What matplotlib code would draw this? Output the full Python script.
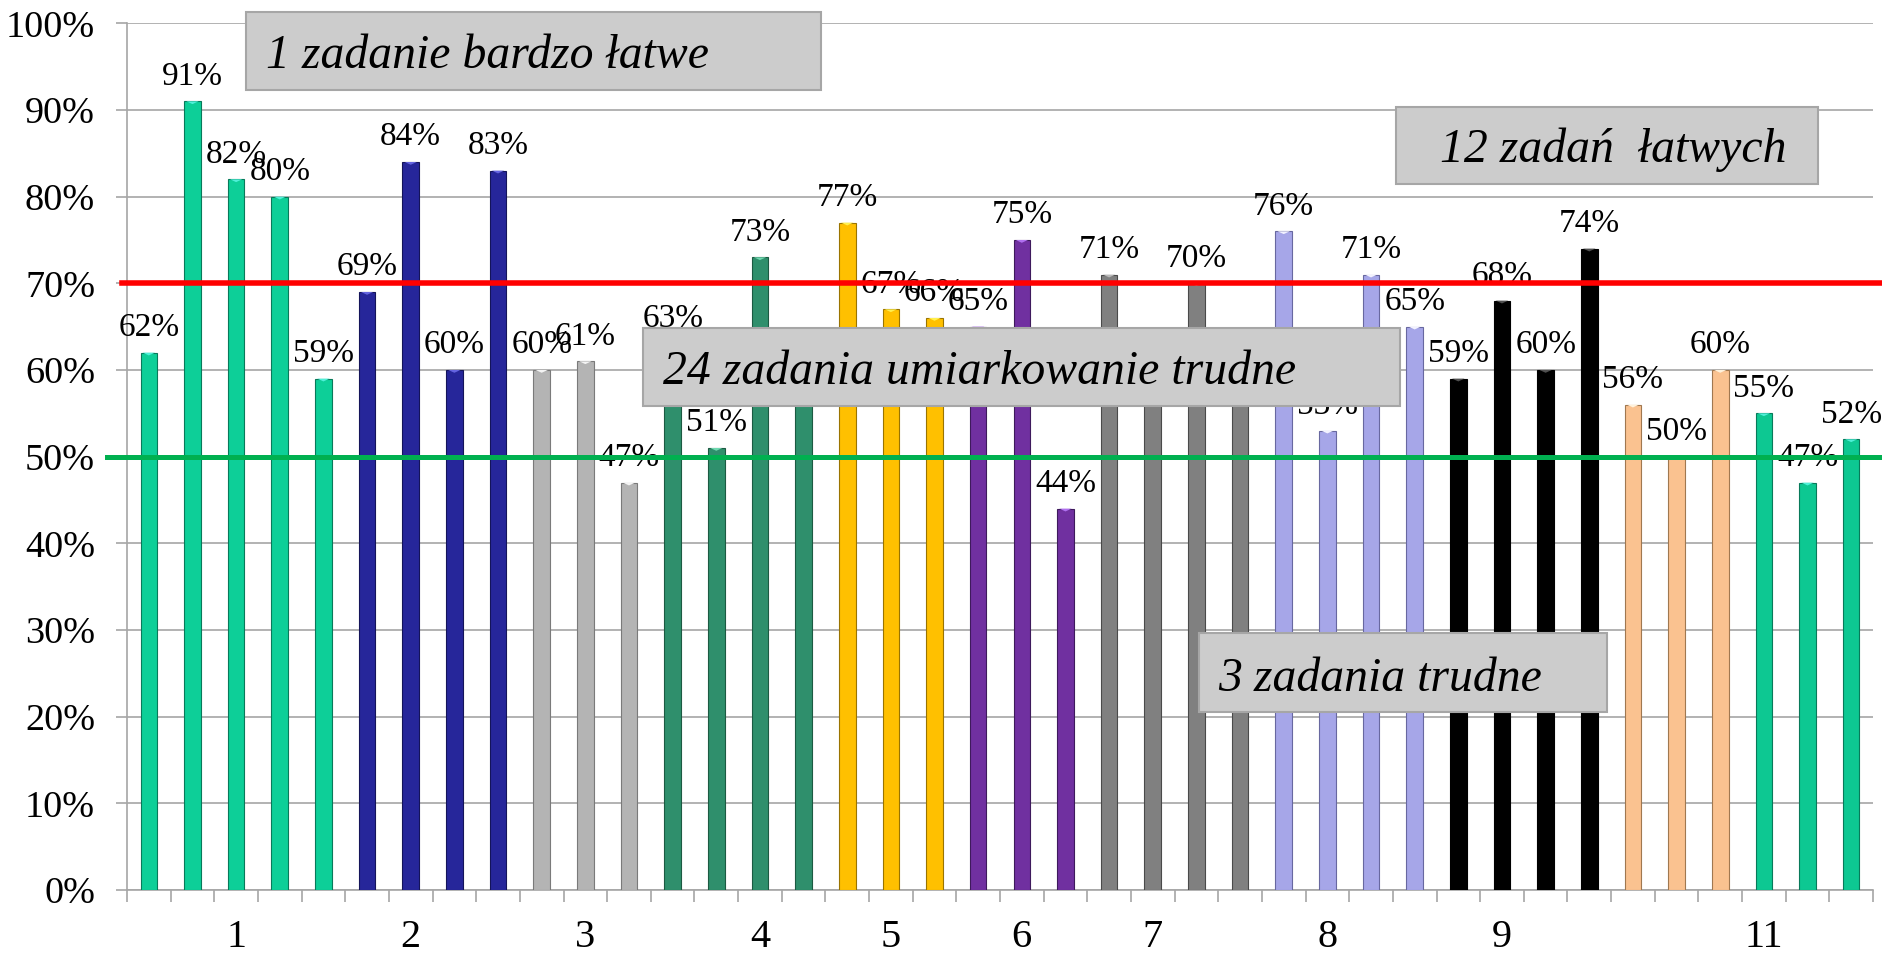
import numpy as np
import matplotlib.pyplot as plt
from matplotlib.patches import Rectangle
from matplotlib.ticker import PercentFormatter, FixedLocator

plt.rcParams['font.family'] = ['Liberation Serif', 'DejaVu Serif']

# latwosc zadan w procentach (40 zadan, 11 grup kolorow)
values = [62, 91, 82, 80, 59,
          69, 84, 60, 83,
          60, 61, 47,
          63, 51, 73, 58,
          77, 67, 66,
          65, 75, 44,
          71, 59, 70, 57,
          76, 53, 71, 65,
          59, 68, 60, 74,
          56, 50, 60,
          55, 47, 52]
group_sizes = [5, 4, 3, 4, 3, 3, 4, 4, 4, 3, 3]
group_colors = ['#0DCF98', '#26269A', '#B4B4B4', '#2F8F6C', '#FFC000', '#7030A0',
                '#808080', '#A6A6E8', '#000000', '#FAC290', '#0DC892']
group_edges = ['#087A5A', '#14145A', '#7A7A7A', '#1C5A42', '#9A7400', '#3E1A5C',
               '#4A4A4A', '#6868A0', '#000000', '#A07850', '#087A5A']
group_tips = ['#4FF0D8', '#6464E0', '#F4F4F4', '#70D8B0', '#FFF050', '#B070F0',
              '#B8B8B8', '#F2F2FF', '#505050', '#FFF2DC', '#4FF0D8']
# etykiety osi X (numer grupy pod wybranym slupkiem)
x_labels = ['', '', '1', '', '',
            '', '2', '', '',
            '', '3', '',
            '', '', '4', '',
            '', '5', '',
            '', '6', '',
            '', '7', '', '',
            '', '8', '', '',
            '', '9', '', '',
            '', '', '',
            '11', '', '']
easy_level = 70
hard_level = 50
boxes = ['1 zadanie bardzo łatwe', '12 zadań  łatwych',
         '24 zadania umiarkowanie trudne', '3 zadania trudne']

W, H = 1882, 957
fig = plt.figure(figsize=(W / 100, H / 100), dpi=100)
ax = fig.add_axes([127 / W, 1 - 890 / H, (1873 - 127) / W, (890 - 23.3) / H])

x = np.arange(len(values))
colors = np.repeat(group_colors, group_sizes)
edges = np.repeat(group_edges, group_sizes)
tips = np.repeat(group_tips, group_sizes)

ax.bar(x, values, width=0.38, color=colors, edgecolor=edges, linewidth=0.8, zorder=3)
# jasny trojkat na szczycie slupka
tip = [(-1, 0), (1, 0), (0, -0.45), (-1, 0)]
ax.scatter(x, values, marker=tip, s=80, c=tips, linewidths=0, zorder=4)

for xi, v in zip(x, values):
    ax.annotate(f'{v}%', (xi, v), xytext=(0, 7), textcoords='offset points',
                ha='center', va='bottom', fontsize=24, zorder=5)

# progi
ax.plot([-0.003, 1.01], [easy_level, easy_level], color='#FF0000', lw=4,
        transform=ax.get_yaxis_transform(), clip_on=False, zorder=6)
ax.plot([-0.0115, 1.01], [hard_level, hard_level], color='#00B050', lw=3.6,
        transform=ax.get_yaxis_transform(), clip_on=False, zorder=6)

ax.set_xlim(-0.5, len(values) - 0.5)
ax.set_ylim(0, 100)
ax.set_yticks(np.arange(0, 101, 10))
ax.yaxis.set_major_formatter(PercentFormatter(decimals=0))
ax.yaxis.grid(True, color='#A6A6A6', lw=1.2)
ax.set_axisbelow(True)
ax.tick_params(axis='y', length=8, width=1.2, color='#A6A6A6', pad=15, labelsize=27.5)

ax.set_xticks(x)
ax.set_xticklabels(x_labels)
ax.xaxis.set_minor_locator(FixedLocator(np.arange(len(values) + 1) - 0.5))
ax.tick_params(axis='x', which='major', length=0, pad=21, labelsize=29)
ax.tick_params(axis='x', which='minor', length=8.5, width=1.2, color='#A6A6A6')

for s in ['top', 'right']:
    ax.spines[s].set_visible(False)
for s in ['left', 'bottom']:
    ax.spines[s].set_color('#A6A6A6')
    ax.spines[s].set_linewidth(1.2)

# ramki z opisami (wspolrzedne w pikselach od gory)
frames = [(246, 12, 821, 90, 266, 68),
          (1396, 107, 1818, 184, 1440, 162),
          (643, 328, 1400, 406, 663, 384),
          (1199, 633, 1607, 712, 1218, 691)]
for label, (x0, y0, x1, y1, tx, ty) in zip(boxes, frames):
    fig.add_artist(Rectangle((x0 / W, 1 - y1 / H), (x1 - x0) / W, (y1 - y0) / H,
                             transform=fig.transFigure, facecolor='#CCCCCC',
                             edgecolor='#A6A6A6', linewidth=1.5, zorder=7))
    fig.text(tx / W, 1 - ty / H, label, fontsize=34.4, style='italic',
             ha='left', va='baseline', zorder=8)

fig.savefig('out.png', dpi=100)
